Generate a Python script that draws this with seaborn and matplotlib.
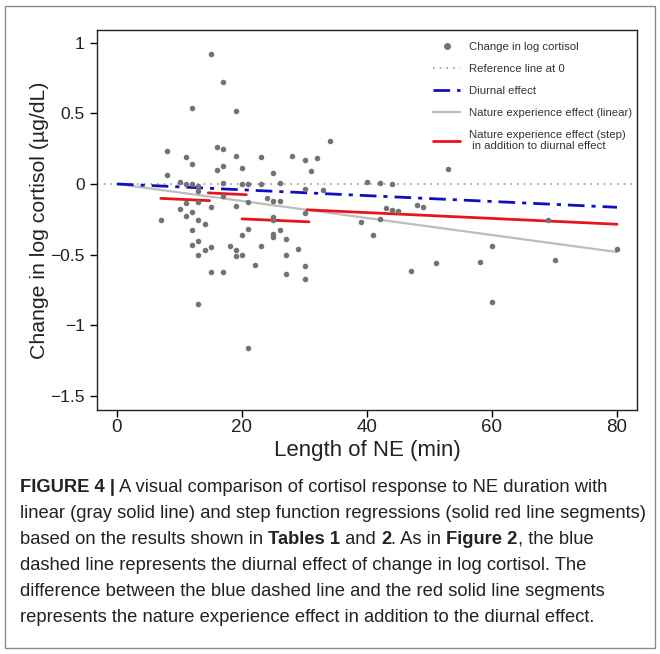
import numpy as np
import pandas as pd
import matplotlib
matplotlib.use("Agg")
import matplotlib.pyplot as plt
import seaborn as sns
from matplotlib.lines import Line2D
from matplotlib.patches import Rectangle
from matplotlib.ticker import FixedLocator, FuncFormatter

# ---------------- data ----------------
ne_minutes = [15, 17, 12, 19, 34, 8, 16, 17, 11, 12, 19, 23, 28, 30, 32, 31, 8, 16, 17, 20, 25, 53,
              10, 11, 12, 13, 17, 20, 21, 23, 26, 40, 42, 44,
              13, 17, 30, 33, 11, 13, 15, 19, 24, 25, 26, 10, 12, 11, 7, 13, 14, 12, 21, 20,
              25, 25, 26, 25, 25, 27, 30, 13, 12, 15, 14, 13, 18, 19, 19, 20, 23, 22, 27, 29,
              30, 30, 27, 15, 17, 13, 21, 21,
              48, 49, 43, 44, 45, 42, 41, 39, 69, 60, 80, 47, 51, 58, 70, 60]
log_cortisol_change = [0.918, 0.725, 0.54, 0.52, 0.306, 0.235, 0.263, 0.247, 0.188, 0.141, 0.2, 0.188,
                       0.2, 0.167, 0.181, 0.094, 0.064, 0.099, 0.129, 0.11, 0.075, 0.108,
                       0.016, 0.0, 0.0, -0.014, 0.007, 0.0, 0.0, 0.0, 0.01, 0.016, 0.007, 0.0,
                       -0.05, -0.088, -0.035, -0.042, -0.134, -0.13, -0.165, -0.158, -0.102, -0.12,
                       -0.12, -0.175, -0.198, -0.229, -0.254, -0.257, -0.282, -0.323, -0.318, -0.36,
                       -0.236, -0.257, -0.325, -0.351, -0.374, -0.393, -0.203, -0.405, -0.431, -0.445,
                       -0.469, -0.501, -0.438, -0.469, -0.51, -0.501, -0.436, -0.572, -0.501, -0.459,
                       -0.58, -0.674, -0.64, -0.626, -0.626, -0.852, -1.163, -0.125,
                       -0.146, -0.165, -0.172, -0.186, -0.188, -0.245, -0.363, -0.266, -0.252, -0.44,
                       -0.457, -0.619, -0.558, -0.551, -0.535, -0.836]

line_x = [0, 80]
diurnal_y = [0.0, -0.165]
linear_y = [0.0, -0.482]

step_x_start = [7, 14.6, 20, 30.4]
step_x_end = [14.8, 20.7, 30.7, 80]
step_y_start = [-0.102, -0.063, -0.247, -0.183]
step_y_end = [-0.118, -0.076, -0.268, -0.285]

x_ticks = [0, 20, 40, 60, 80]
y_ticks = [1, 0.5, 0, -0.5, -1, -1.5]

legend_labels = ["Change in log cortisol", "Reference line at 0", "Diurnal effect",
                 "Nature experience effect (linear)",
                 "Nature experience effect (step)\n in addition to diurnal effect"]

caption_lines = [
    [("FIGURE 4 |", True), (" A visual comparison of cortisol response to NE duration with", False)],
    [("linear (gray solid line) and step function regressions (solid red line segments)", False)],
    [("based on the results shown in ", False), ("Tables 1", True), (" and ", False), ("2", True),
     (". As in ", False), ("Figure 2", True), (", the blue", False)],
    [("dashed line represents the diurnal effect of change in log cortisol. The", False)],
    [("difference between the blue dashed line and the red solid line segments", False)],
    [("represents the nature experience effect in addition to the diurnal effect.", False)],
]

# ---------------- style ----------------
sns.set_theme(style="ticks")
plt.rcParams['font.family'] = ['Liberation Sans', 'DejaVu Sans']

W, H = 660, 654
fig = plt.figure(figsize=(W / 100, H / 100), dpi=100)
ax = fig.add_axes([97 / W, 1 - 410 / H, (637 - 97) / W, (410 - 30) / H])

df_pts = pd.DataFrame({"ne": ne_minutes, "cort": log_cortisol_change})
pt_color = "#737373"

ax.axhline(0, color="#9a9a9a", lw=1.2, ls=(0, (1, 3)), zorder=1)

df_lin = pd.DataFrame({"x": line_x, "y": linear_y})
sns.lineplot(data=df_lin, x="x", y="y", ax=ax, color="#bdbdbd", lw=1.6, zorder=2)

df_step = pd.DataFrame({
    "x": [v for pair in zip(step_x_start, step_x_end) for v in pair],
    "y": [v for pair in zip(step_y_start, step_y_end) for v in pair],
    "seg": [i for i in range(len(step_x_start)) for _ in range(2)],
})
sns.lineplot(data=df_step, x="x", y="y", units="seg", estimator=None, ax=ax,
             color="#e8141b", lw=2.0, zorder=3)

df_di = pd.DataFrame({"x": line_x, "y": diurnal_y})
sns.lineplot(data=df_di, x="x", y="y", ax=ax, color="#1010c0", lw=2.0, zorder=4)
ax.lines[-1].set_dashes([6, 2.5, 1.5, 2.5])

sns.scatterplot(data=df_pts, x="ne", y="cort", ax=ax, color=pt_color, s=16,
                linewidth=0, zorder=5)

ax.set_xlim(-3.2, 83.2)
ax.set_ylim(-1.6, 1.09)
ax.xaxis.set_major_locator(FixedLocator(x_ticks))
ax.yaxis.set_major_locator(FixedLocator(y_ticks))
ax.yaxis.set_major_formatter(FuncFormatter(lambda v, p: ("%g" % v).replace("-", "\u2212")))
ax.xaxis.set_major_formatter(FuncFormatter(lambda v, p: "%g" % v))
ax.tick_params(axis="both", direction="out", length=5, width=1, color="black",
               labelcolor="#222222", pad=4)
ax.tick_params(axis="x", labelsize=13.5, pad=1.5)
ax.tick_params(axis="y", labelsize=12.5)
for s in ax.spines.values():
    s.set_visible(True)
    s.set_color("#222222")
    s.set_linewidth(1.0)
ax.set_xlabel("Length of NE (min)", fontsize=16, color="#222222", labelpad=3)
ax.set_ylabel("Change in log cortisol (\u00b5g/dL)", fontsize=15.3, color="#222222", labelpad=1)

handles = [
    Line2D([], [], ls="none", marker="o", markersize=4, color=pt_color),
    Line2D([], [], color="#9a9a9a", lw=1.2, ls=(0, (1, 3))),
    Line2D([], [], color="#1010c0", lw=2.0, dashes=[6, 2.5, 1.5, 2.5]),
    Line2D([], [], color="#bdbdbd", lw=1.6),
    Line2D([], [], color="#e8141b", lw=2.0),
]
leg = ax.legend(handles, legend_labels, loc="upper left",
                bbox_to_anchor=((433 - 97) / 540, (410 - 42) / 380),
                frameon=False, fontsize=8.2, handlelength=2.4, handletextpad=0.8,
                labelspacing=1.05, borderpad=0, borderaxespad=0)
for t in leg.get_texts():
    t.set_color("#333333")

# ---------------- caption ----------------
fig.canvas.draw()
renderer = fig.canvas.get_renderer()
cap_x0 = 20
cap_y0 = 487
cap_dy = 26.2
cap_size = 13.2
for i, line in enumerate(caption_lines):
    xpix = cap_x0
    ypix = cap_y0 + i * cap_dy
    for txt, bold in line:
        t = fig.text(xpix / W, 1 - ypix / H, txt, fontsize=cap_size,
                     fontweight="bold" if bold else "normal", color="#222222",
                     va="center", ha="left")
        bb = t.get_window_extent(renderer=renderer)
        xpix += bb.width

# outer frame
fig.patches.append(Rectangle((5 / W, 6 / H), (W - 10) / W, (H - 12) / H,
                             transform=fig.transFigure, fill=False,
                             edgecolor="#8a8a8a", lw=1.0))

fig.savefig("out.png", dpi=100)
